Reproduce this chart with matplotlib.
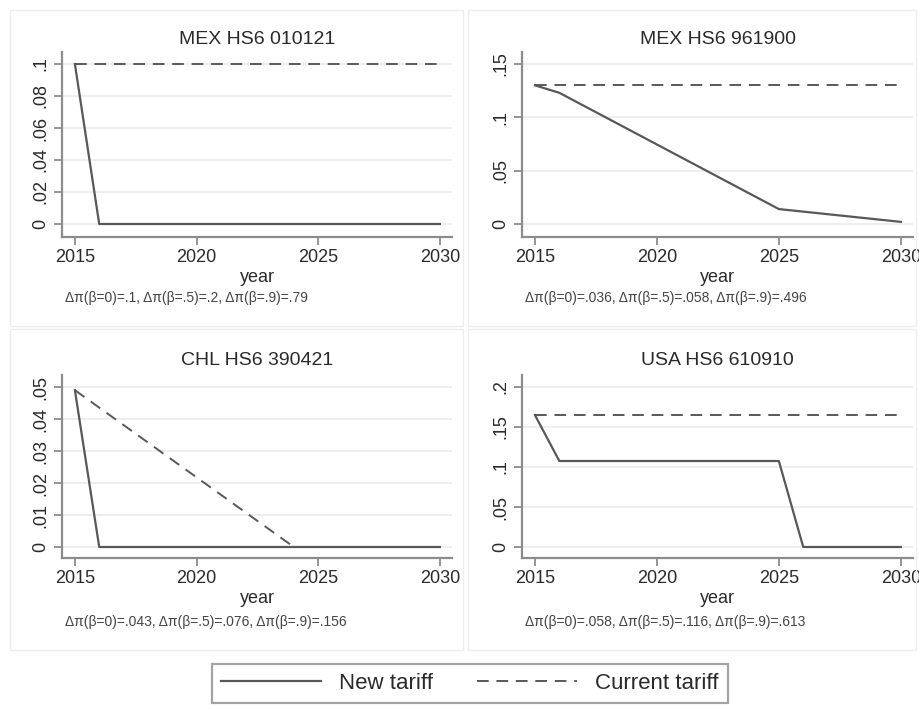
import matplotlib
matplotlib.use("Agg")
import matplotlib.pyplot as plt
from matplotlib.patches import Rectangle
from matplotlib.lines import Line2D

plt.rcParams["font.family"] = ["Liberation Sans", "DejaVu Sans"]

# data
titles = ["MEX HS6 010121", "MEX HS6 961900", "CHL HS6 390421", "USA HS6 610910"]

new_years = [
    [2015, 2016, 2030],
    [2015, 2016, 2025, 2030],
    [2015, 2016, 2030],
    [2015, 2016, 2025, 2026, 2030],
]
new_tariff = [
    [0.1, 0.0, 0.0],
    [0.13, 0.123, 0.014, 0.002],
    [0.049, 0.0, 0.0],
    [0.165, 0.1075, 0.1075, 0.0, 0.0],
]
cur_years = [
    [2015, 2030],
    [2015, 2030],
    [2015, 2024, 2030],
    [2015, 2030],
]
cur_tariff = [
    [0.1, 0.1],
    [0.13, 0.13],
    [0.049, 0.0, 0.0],
    [0.165, 0.165],
]

yticks = [
    [0, 0.02, 0.04, 0.06, 0.08, 0.1],
    [0, 0.05, 0.1, 0.15],
    [0, 0.01, 0.02, 0.03, 0.04, 0.05],
    [0, 0.05, 0.1, 0.15, 0.2],
]
ytick_labels = [
    ["0", ".02", ".04", ".06", ".08", ".1"],
    ["0", ".05", ".1", ".15"],
    ["0", ".01", ".02", ".03", ".04", ".05"],
    ["0", ".05", ".1", ".15", ".2"],
]
xticks = [2015, 2020, 2025, 2030]

notes = [
    "Δπ(β=0)=.1, Δπ(β=.5)=.2, Δπ(β=.9)=.79",
    "Δπ(β=0)=.036, Δπ(β=.5)=.058, Δπ(β=.9)=.496",
    "Δπ(β=0)=.043, Δπ(β=.5)=.076, Δπ(β=.9)=.156",
    "Δπ(β=0)=.058, Δπ(β=.5)=.116, Δπ(β=.9)=.613",
]

W, H = 920, 709
fig = plt.figure(figsize=(W / 100, H / 100), dpi=100)
fig.patch.set_facecolor("white")

line_col = "#585858"
axis_col = "#8c8c8c"
text_col = "#2a2a2a"
dash = (0, (6, 4))

# panel outlines (pixel boxes: left, top, right, bottom)
boxes = [(10, 10, 463, 326), (468, 10, 916, 326), (10, 329, 463, 650), (468, 329, 916, 650)]
for l, t, r, b in boxes:
    fig.patches.append(Rectangle((l / W, 1 - b / H), (r - l) / W, (b - t) / H,
                                 transform=fig.transFigure, fill=False,
                                 edgecolor="#eeeeee", linewidth=1.0))

# axes placement in pixels
axes_px = [(62, 52, 452, 237), (522, 52, 913, 237), (62, 375, 452, 558), (522, 375, 913, 558)]
title_pad = [5.5, 5.5, 7.0, 7.0]
bottom_margin = [13, 13, 11, 11]   # px between y=0 and the x axis

for i in range(4):
    l, t, r, b = axes_px[i]
    hpx = b - t
    ax = fig.add_axes([l / W, 1 - b / H, (r - l) / W, hpx / H])
    ax.set_facecolor("white")
    ymax = yticks[i][-1]
    ax.set_ylim(-bottom_margin[i] / 160 * ymax, ymax * (1 + 12 / 160))
    ax.set_xlim(2014.47, 2030.5)

    for yv in yticks[i]:
        ax.axhline(yv, color="#ededed", lw=1.3, zorder=0)

    ax.plot(cur_years[i], cur_tariff[i], color=line_col, lw=1.4,
            linestyle=dash, zorder=2)
    ax.plot(new_years[i], new_tariff[i], color=line_col, lw=1.6, zorder=3)

    ax.set_xticks(xticks)
    ax.set_xticklabels([str(x) for x in xticks])
    ax.set_yticks(yticks[i])
    ax.set_yticklabels(ytick_labels[i], rotation=90, va="center")

    for s in ["top", "right"]:
        ax.spines[s].set_visible(False)
    for s in ["left", "bottom"]:
        ax.spines[s].set_color(axis_col)
        ax.spines[s].set_linewidth(1.6)
    ax.tick_params(axis="both", direction="out", length=6, width=1.3,
                   color=axis_col, labelsize=13, labelcolor=text_col)
    ax.tick_params(axis="x", pad=2.5)
    ax.tick_params(axis="y", pad=3)

    ax.set_title(titles[i], fontsize=14, color=text_col, pad=title_pad[i])
    ax.set_xlabel("year", fontsize=13, color=text_col)
    ax.xaxis.set_label_coords(0.5, -32 / hpx)

    note_off = 61 if i < 2 else 64
    ax.text(0.008, -note_off / hpx, notes[i], transform=ax.transAxes,
            ha="left", va="center", fontsize=10, color="#444444")

handles = [Line2D([], [], color=line_col, lw=1.6),
           Line2D([], [], color=line_col, lw=1.4, linestyle=dash)]
leg = fig.legend(handles, ["New tariff", "Current tariff"], loc="center",
                 bbox_to_anchor=(470 / W, 1 - 683.5 / H), ncol=2, frameon=True,
                 fancybox=False, edgecolor=axis_col, fontsize=16,
                 handlelength=4.5, handletextpad=0.8, columnspacing=2.0,
                 borderpad=0.4)
leg.get_frame().set_linewidth(1.6)
for txt in leg.get_texts():
    txt.set_color(text_col)

fig.savefig("out.png", dpi=100, facecolor="white")
